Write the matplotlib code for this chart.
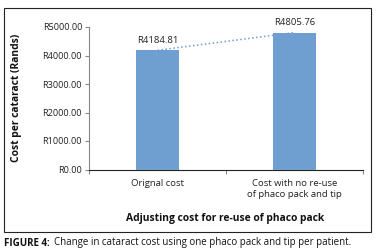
import matplotlib
matplotlib.use("Agg")
import matplotlib.pyplot as plt
from matplotlib.patches import Rectangle

categories = ["Orignal cost", "Cost with no re-use\nof phaco pack and tip"]
values = [4184.81, 4805.76]
value_labels = ["R4184.81", "R4805.76"]
yticks = [0, 1000, 2000, 3000, 4000, 5000]
ytick_labels = ["R0.00", "R1000.00", "R2000.00", "R3000.00", "R4000.00", "R5000.00"]

plt.rcParams['font.family'] = ['Open Sans', 'DejaVu Sans']
W, H = 379, 252
fig = plt.figure(figsize=(W/100, H/100), dpi=100)

# outer frame
fig.patches.append(Rectangle((4/W, 1-232/H), (371-4)/W, (232-8)/H, transform=fig.transFigure,
                             fill=False, edgecolor='#222222', linewidth=0.8))

ax = fig.add_axes([89/W, 1-169.5/H, (363-89)/W, (169.5-27)/H])
x = list(range(len(categories)))
bar_color = '#6f9fd1'
ax.bar(x, values, width=0.32, color=bar_color, zorder=3)
ax.plot(x, values, linestyle=(0, (1, 1.6)), color='#6f9fd1', linewidth=1.1, zorder=2)
for xi, v, lab in zip(x, values, value_labels):
    ax.text(xi, v + 200, lab, ha='center', va='bottom', fontsize=6.8, color='#222222')

ax.set_xlim(-0.5, 1.5)
ax.set_ylim(0, 5000)
ax.set_yticks(yticks)
ax.set_yticklabels(ytick_labels, fontsize=6.6, color='#222222')
ax.set_xticks([-0.5, 0.5, 1.5], minor=False)
ax.set_xticklabels(['', '', ''])
ax.set_xticks(x, minor=True)
ax.set_xticklabels(categories, minor=True, fontsize=6.8, color='#222222', linespacing=1.3)
ax.tick_params(axis='x', which='minor', length=0, pad=7)
ax.tick_params(axis='x', which='major', length=3, direction='out', color='#888888')
ax.tick_params(axis='y', length=3, direction='out', color='#888888', pad=2)
for s in ['top', 'right']:
    ax.spines[s].set_visible(False)
ax.spines['left'].set_color('#888888')
ax.spines['bottom'].set_color('#222222')
ax.spines['left'].set_linewidth(0.8)
ax.spines['bottom'].set_linewidth(0.8)

fig.text(17/W, 1-98/H, "Cost per cataract (Rands)", rotation=90, ha='center', va='center',
         fontsize=7.4, fontweight='bold', color='#111111')
fig.text(225/W, 1-218/H, "Adjusting cost for re-use of phaco pack", ha='center', va='center',
         fontsize=7.4, fontweight='bold', color='#111111')
fig.text(4/W, 1-243/H, "FIGURE 4:", ha='left', va='center', fontsize=7.0, fontweight='bold', color='#111111')
fig.text(54/W, 1-243/H, "Change in cataract cost using one phaco pack and tip per patient.", ha='left',
         va='center', fontsize=7.0, color='#111111')

fig.savefig("out.png", dpi=100)
